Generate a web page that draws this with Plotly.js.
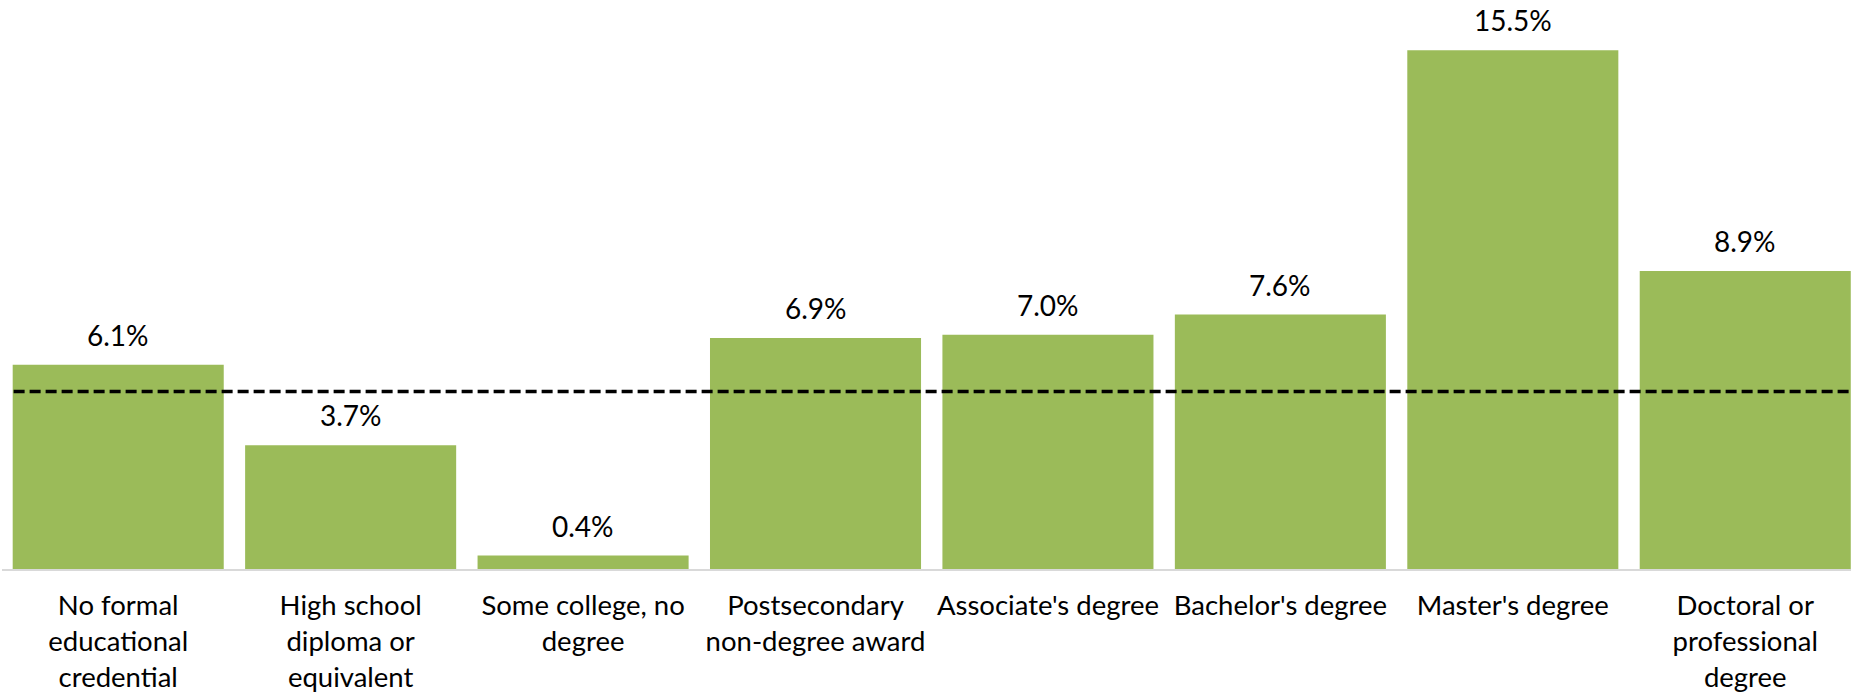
<!DOCTYPE html>
<html>
<head>
<meta charset="utf-8">
<script src="https://cdn.plot.ly/plotly-3.0.1.min.js"></script>
<style>html,body{margin:0;padding:0;background:#fff;}#chart{width:1851px;height:694px;}</style>
</head>
<body>
<div id="chart"></div>
<script>
const categories = [
  "No formal<br>educational<br>credential",
  "High school<br>diploma or<br>equivalent",
  "Some college, no<br>degree",
  "Postsecondary<br>non-degree award",
  "Associate's degree",
  "Bachelor's degree",
  "Master's degree",
  "Doctoral or<br>professional<br>degree"
];
const values = [6.1, 3.7, 0.4, 6.9, 7.0, 7.6, 15.5, 8.9];
const valueLabels = ["6.1%", "3.7%", "0.4%", "6.9%", "7.0%", "7.6%", "15.5%", "8.9%"];
const averageValue = 5.3;

const FONT = "Lato, 'Open Sans', sans-serif";

const trace = {
  type: "bar",
  x: categories,
  y: values,
  marker: { color: "#9BBB59", line: { width: 0 } },
  hoverinfo: "none"
};

const annotations = categories.map((c, i) => ({
  x: c, y: values[i], xref: "x", yref: "y",
  text: valueLabels[i], showarrow: false,
  yanchor: "bottom", yshift: 11,
  font: { family: FONT, size: 28, color: "#000" }
}));

const layout = {
  width: 1851, height: 694,
  margin: { l: 2, r: 0, t: 0, b: 125, pad: 0 },
  paper_bgcolor: "#fff", plot_bgcolor: "#fff",
  showlegend: false,
  bargap: 0.092,
  xaxis: {
    type: "category",
    range: [-0.5, 7.455],
    showgrid: false, zeroline: false,
    showline: true, linecolor: "#d9d9d9", linewidth: 2,
    ticks: "", tickangle: 0,
    ticklabelstandoff: 11,
    tickfont: { family: FONT, size: 27.5, color: "#000" }
  },
  yaxis: {
    range: [0, 17],
    showgrid: false, zeroline: false, showline: false,
    showticklabels: false, ticks: ""
  },
  shapes: [{
    type: "line", xref: "x", yref: "y",
    x0: -0.45, x1: 7.455, y0: averageValue, y1: averageValue,
    line: { color: "#000", width: 3.5, dash: "11px,5px" }
  }],
  annotations: annotations
};

Plotly.newPlot("chart", [trace], layout, { displayModeBar: false, staticPlot: true });
</script>
</body>
</html>
